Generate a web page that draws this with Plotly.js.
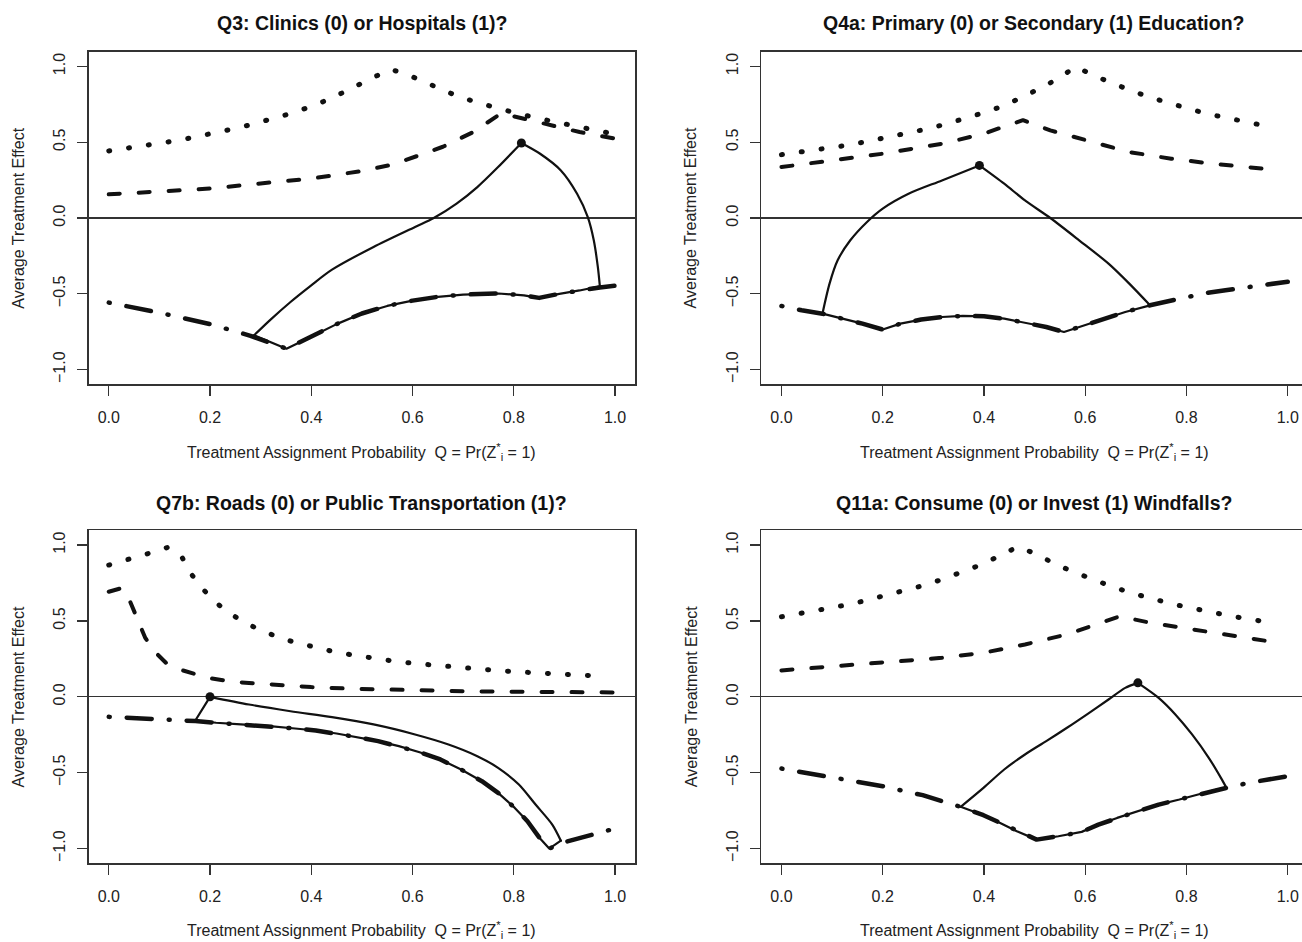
<!DOCTYPE html>
<html>
<head>
<meta charset="utf-8">
<script src="https://cdn.plot.ly/plotly-3.0.1.min.js"></script>
<style>
  html, body { margin: 0; padding: 0; background: #fff; }
  #chart { width: 1302px; height: 942px; }
  .scatterlayer path.js-line { stroke-linecap: round; stroke-linejoin: round; }
</style>
</head>
<body>
<div id="chart"></div>
<script>
// ---------------- DATA ----------------
const panelTitles = [
  "Q3: Clinics (0) or Hospitals (1)?",
  "Q4a: Primary (0) or Secondary (1) Education?",
  "Q7b: Roads (0) or Public Transportation (1)?",
  "Q11a: Consume (0) or Invest (1) Windfalls?"
];
const xTickVals = [0, 0.2, 0.4, 0.6, 0.8, 1.0];
const yTickVals = [-1, -0.5, 0, 0.5, 1];
const xLabel = "Treatment Assignment Probability  Q = Pr(Z<sup>*</sup><sub>i</sub> = 1)";
const yLabel = "Average Treatment Effect";

// Q3
const q3DotX = [0,0.04,0.08,0.12,0.16,0.2,0.24,0.28,0.32,0.36,0.4,0.44,0.47,0.51,0.555,0.58,0.62,0.655,0.69,0.73,0.77,0.81,0.85,0.89,0.93,0.97,1.0];
const q3DotY = [0.442,0.461,0.481,0.503,0.527,0.553,0.584,0.615,0.65,0.69,0.736,0.79,0.84,0.903,0.98,0.96,0.905,0.85,0.802,0.76,0.722,0.687,0.656,0.626,0.597,0.573,0.553];
const q3DashX = [0,0.1,0.2,0.3,0.4,0.5,0.56,0.61,0.66,0.72,0.775,0.82,0.88,0.93,1.0];
const q3DashY = [0.156,0.172,0.194,0.228,0.26,0.31,0.352,0.41,0.47,0.567,0.69,0.655,0.605,0.567,0.524];
const q3DdX = [0,0.1,0.2,0.28,0.351,0.4,0.45,0.5,0.55,0.6,0.65,0.7,0.77,0.82,0.85,0.89,0.93,0.97,1.0];
const q3DdY = [-0.558,-0.625,-0.7,-0.777,-0.862,-0.784,-0.7,-0.63,-0.58,-0.545,-0.52,-0.505,-0.498,-0.51,-0.527,-0.5,-0.478,-0.458,-0.447];
const q3LeftX = [0.287,0.318,0.359,0.4,0.441,0.523,0.605,0.642,0.687,0.728,0.769,0.815];
const q3LeftY = [-0.774,-0.675,-0.554,-0.444,-0.341,-0.191,-0.059,0,0.095,0.204,0.336,0.495];
const q3RightX = [0.815,0.852,0.893,0.925,0.946,0.958,0.966,0.97];
const q3RightY = [0.495,0.424,0.314,0.16,0.007,-0.147,-0.323,-0.45];
const q3Point = [0.815, 0.495];

// Q4a
const q4DotX = [0,0.04,0.08,0.12,0.16,0.2,0.24,0.28,0.32,0.36,0.4,0.44,0.474,0.511,0.547,0.581,0.618,0.655,0.693,0.733,0.771,0.811,0.85,0.89,0.93,0.97];
const q4DotY = [0.418,0.435,0.455,0.475,0.499,0.525,0.552,0.582,0.615,0.653,0.695,0.741,0.793,0.855,0.921,0.998,0.938,0.886,0.837,0.791,0.752,0.714,0.681,0.653,0.624,0.598];
const q4DashX = [0,0.095,0.2,0.317,0.4,0.44,0.477,0.531,0.605,0.687,0.77,0.852,0.97];
const q4DashY = [0.336,0.38,0.424,0.49,0.556,0.604,0.645,0.578,0.512,0.435,0.391,0.358,0.319];
const q4DdX = [0,0.04,0.081,0.128,0.16,0.2,0.235,0.276,0.317,0.358,0.4,0.44,0.481,0.523,0.558,0.597,0.638,0.679,0.728,0.757,0.794,0.835,0.877,0.918,0.959,1.0];
const q4DdY = [-0.58,-0.609,-0.631,-0.668,-0.697,-0.736,-0.697,-0.67,-0.653,-0.646,-0.648,-0.664,-0.69,-0.719,-0.752,-0.708,-0.664,-0.62,-0.576,-0.554,-0.527,-0.497,-0.477,-0.458,-0.439,-0.42];
const q4LeftX = [0.081,0.095,0.111,0.136,0.169,0.2,0.251,0.317,0.391];
const q4LeftY = [-0.631,-0.433,-0.279,-0.147,-0.026,0.062,0.16,0.248,0.347];
const q4RightX = [0.391,0.44,0.481,0.531,0.588,0.646,0.687,0.728];
const q4RightY = [0.347,0.226,0.116,0,-0.147,-0.301,-0.433,-0.576];
const q4Point = [0.391, 0.347];

// Q7b
const q7DotX = [0,0.04,0.079,0.117,0.144,0.164,0.189,0.218,0.251,0.287,0.324,0.363,0.402,0.442,0.482,0.523,0.563,0.603,0.644,0.684,0.724,0.765,0.806,0.847,0.888,0.929,0.969];
const q7DotY = [0.868,0.905,0.945,0.985,0.923,0.804,0.699,0.604,0.525,0.459,0.407,0.363,0.33,0.299,0.275,0.253,0.235,0.22,0.207,0.193,0.182,0.174,0.165,0.156,0.149,0.143,0.138];
const q7DashX = [0,0.025,0.039,0.056,0.072,0.093,0.113,0.146,0.195,0.244,0.318,0.4,0.482,0.564,0.646,0.728,0.81,0.893,1.0];
const q7DashY = [0.692,0.716,0.653,0.521,0.389,0.29,0.224,0.174,0.125,0.099,0.081,0.064,0.053,0.046,0.04,0.035,0.033,0.031,0.029];
const q7DdX = [0,0.039,0.08,0.13,0.171,0.212,0.261,0.318,0.368,0.409,0.45,0.491,0.532,0.573,0.614,0.655,0.696,0.737,0.769,0.802,0.827,0.851,0.87,0.9,0.95,1.0];
const q7DdY = [-0.132,-0.138,-0.143,-0.149,-0.16,-0.171,-0.182,-0.193,-0.209,-0.222,-0.242,-0.266,-0.292,-0.325,-0.365,-0.413,-0.479,-0.556,-0.633,-0.732,-0.82,-0.93,-1.0,-0.958,-0.91,-0.868];
const q7LeftX = [0.171,0.2];
const q7LeftY = [-0.156,0.0];
const q7RightX = [0.2,0.277,0.359,0.441,0.523,0.605,0.671,0.728,0.769,0.81,0.843,0.876,0.893];
const q7RightY = [0.0,-0.051,-0.095,-0.134,-0.182,-0.248,-0.314,-0.391,-0.468,-0.578,-0.71,-0.842,-0.948];
const q7Point = [0.2, 0.0];

// Q11a
const q11DotX = [0,0.04,0.08,0.12,0.16,0.2,0.24,0.279,0.318,0.356,0.394,0.43,0.467,0.503,0.538,0.576,0.614,0.652,0.691,0.731,0.77,0.81,0.85,0.891,0.931,0.971];
const q11DotY = [0.527,0.549,0.574,0.6,0.629,0.662,0.695,0.732,0.774,0.82,0.87,0.927,0.989,0.941,0.879,0.824,0.774,0.727,0.684,0.646,0.613,0.585,0.556,0.53,0.508,0.486];
const q11DashX = [0,0.086,0.202,0.317,0.399,0.481,0.564,0.621,0.668,0.728,0.811,0.893,0.97];
const q11DashY = [0.174,0.196,0.224,0.257,0.29,0.345,0.411,0.477,0.53,0.488,0.444,0.4,0.362];
const q11DdX = [0,0.04,0.08,0.128,0.16,0.2,0.243,0.279,0.317,0.354,0.399,0.432,0.465,0.504,0.547,0.593,0.626,0.663,0.704,0.745,0.786,0.827,0.86,0.901,0.942,1.0];
const q11DdY = [-0.473,-0.495,-0.516,-0.545,-0.567,-0.589,-0.622,-0.648,-0.688,-0.725,-0.78,-0.831,-0.886,-0.941,-0.919,-0.89,-0.842,-0.798,-0.754,-0.71,-0.677,-0.64,-0.611,-0.582,-0.556,-0.523];
const q11LeftX = [0.354,0.399,0.44,0.481,0.523,0.564,0.605,0.646,0.679,0.704];
const q11LeftY = [-0.725,-0.6,-0.479,-0.38,-0.292,-0.204,-0.112,-0.018,0.059,0.092];
const q11RightX = [0.704,0.745,0.778,0.811,0.844,0.868,0.879];
const q11RightY = [0.092,-0.007,-0.116,-0.248,-0.402,-0.534,-0.6];
const q11Point = [0.704, 0.092];

// ---------------- BUILD ----------------
const W = 1302, H = 942;
const panels = [
  {dotX:q3DotX,dotY:q3DotY,dashX:q3DashX,dashY:q3DashY,ddX:q3DdX,ddY:q3DdY,lX:q3LeftX,lY:q3LeftY,rX:q3RightX,rY:q3RightY,pt:q3Point},
  {dotX:q4DotX,dotY:q4DotY,dashX:q4DashX,dashY:q4DashY,ddX:q4DdX,ddY:q4DdY,lX:q4LeftX,lY:q4LeftY,rX:q4RightX,rY:q4RightY,pt:q4Point},
  {dotX:q7DotX,dotY:q7DotY,dashX:q7DashX,dashY:q7DashY,ddX:q7DdX,ddY:q7DdY,lX:q7LeftX,lY:q7LeftY,rX:q7RightX,rY:q7RightY,pt:q7Point},
  {dotX:q11DotX,dotY:q11DotY,dashX:q11DashX,dashY:q11DashY,ddX:q11DdX,ddY:q11DdY,lX:q11LeftX,lY:q11LeftY,rX:q11RightX,rY:q11RightY,pt:q11Point}
];

// pixel boxes [left, right, top, bottom]
const unitPx = 546.8 / 1.08;
const boxes = [
  [88.5, 635.3, 51.7, 384.3],
  [761.2, 1302, 51.7, 384.3],
  [88.5, 635.3, 530.3, 863.3],
  [761.2, 1302, 530.3, 863.3]
];
const offsetsX = [0, 672.7, 0, 672.7];
const titleY = [23, 23, 502.5, 502.5];
const xlabY = [452, 452, 929.5, 929.5];

const ink = '#111111';
const axisCol = '#333333';
const traces = [];
const layout = {
  width: W, height: H,
  margin: {l: 0, r: 0, t: 0, b: 0},
  paper_bgcolor: '#ffffff', plot_bgcolor: '#ffffff',
  showlegend: false,
  font: {family: 'Liberation Sans, Arial, Helvetica, sans-serif', color: '#222', size: 16},
  annotations: []
};

panels.forEach((p, i) => {
  const k = i + 1;
  const xa = k === 1 ? 'x' : 'x' + k;
  const ya = k === 1 ? 'y' : 'y' + k;
  const b = boxes[i];
  const xmax = -0.04 + (b[1] - b[0]) / unitPx;
  layout['xaxis' + (k === 1 ? '' : k)] = {
    domain: [b[0] / W, b[1] / W], anchor: ya,
    range: [-0.04, xmax], tickvals: xTickVals, tickformat: '.1f',
    ticks: 'outside', ticklen: 10, tickwidth: 1.2, tickcolor: axisCol,
    showline: true, mirror: true, linecolor: axisCol, linewidth: 1.3,
    showgrid: false, zeroline: false, ticklabelstandoff: 8,
    tickfont: {size: 16, color: '#222'}, fixedrange: true
  };
  layout['yaxis' + (k === 1 ? '' : k)] = {
    domain: [(H - b[3]) / H, (H - b[2]) / H], anchor: xa,
    range: [-1.097, 1.097], tickvals: yTickVals, tickformat: '.1f',
    ticks: 'outside', ticklen: 10, tickwidth: 1.2, tickcolor: axisCol,
    showline: true, mirror: true, linecolor: axisCol, linewidth: 1.3,
    showgrid: false, zeroline: true, zerolinecolor: axisCol, zerolinewidth: 1.2,
    tickangle: -90, ticklabelstandoff: 6,
    tickfont: {size: 16, color: '#222'}, fixedrange: true
  };

  // dotted
  traces.push({x: p.dotX, y: p.dotY, xaxis: xa, yaxis: ya, mode: 'lines',
    line: {color: ink, width: 5, dash: '1px,19px'}, hoverinfo: 'skip'});
  // dashed
  traces.push({x: p.dashX, y: p.dashY, xaxis: xa, yaxis: ya, mode: 'lines',
    line: {color: ink, width: 4, dash: '11px,19px'}, hoverinfo: 'skip'});
  // dash-dot
  traces.push({x: p.ddX, y: p.ddY, xaxis: xa, yaxis: ya, mode: 'lines',
    line: {color: ink, width: 4.5, dash: '1px,17px,25px,17px'}, hoverinfo: 'skip'});

  // solid region: left edge and right edge (smooth), lower edge along the lower bound
  const x0 = p.lX[0], x1 = p.rX[p.rX.length - 1];
  const lowX = [x0], lowY = [p.lY[0]];
  for (let j = 0; j < p.ddX.length; j++) {
    if (p.ddX[j] < x1 && p.ddX[j] > x0) { lowX.push(p.ddX[j]); lowY.push(p.ddY[j]); }
  }
  lowX.push(x1); lowY.push(p.rY[p.rY.length - 1]);
  traces.push({x: p.lX, y: p.lY, xaxis: xa, yaxis: ya, mode: 'lines',
    line: {color: ink, width: 2.2, shape: 'spline', smoothing: 0.8}, hoverinfo: 'skip'});
  traces.push({x: p.rX, y: p.rY, xaxis: xa, yaxis: ya, mode: 'lines',
    line: {color: ink, width: 2.2, shape: 'spline', smoothing: 0.8}, hoverinfo: 'skip'});
  traces.push({x: lowX, y: lowY, xaxis: xa, yaxis: ya, mode: 'lines',
    line: {color: ink, width: 2.2}, hoverinfo: 'skip'});
  // point
  traces.push({x: [p.pt[0]], y: [p.pt[1]], xaxis: xa, yaxis: ya, mode: 'markers',
    marker: {color: ink, size: 9}, hoverinfo: 'skip'});

  // titles and axis labels
  const cx = 361.5 + offsetsX[i];
  layout.annotations.push({
    text: '<b>' + panelTitles[i] + '</b>', xref: 'paper', yref: 'paper',
    x: cx / W, y: (H - titleY[i]) / H, xanchor: 'center', yanchor: 'middle',
    showarrow: false, font: {size: 19.5, color: '#111'}
  });
  layout.annotations.push({
    text: xLabel, xref: 'paper', yref: 'paper',
    x: cx / W, y: (H - xlabY[i]) / H, xanchor: 'center', yanchor: 'middle',
    showarrow: false, font: {size: 16, color: '#222'}
  });
  layout.annotations.push({
    text: yLabel, xref: 'paper', yref: 'paper', textangle: -90,
    x: (18.7 + offsetsX[i]) / W, y: (H - (b[2] + b[3]) / 2) / H,
    xanchor: 'center', yanchor: 'middle',
    showarrow: false, font: {size: 16, color: '#222'}
  });
});

Plotly.newPlot('chart', traces, layout, {staticPlot: true, displayModeBar: false});
</script>
</body>
</html>
